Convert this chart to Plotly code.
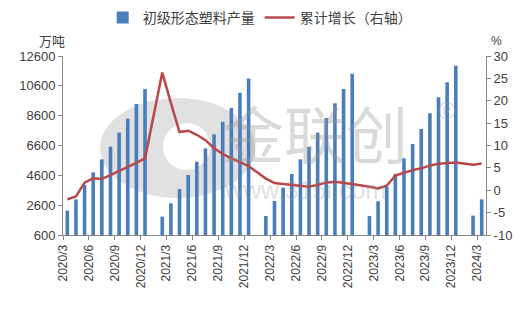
import plotly.graph_objects as go

months = ["2020/3","2020/4","2020/5","2020/6","2020/7","2020/8","2020/9","2020/10","2020/11","2020/12",
          "2021/1","2021/2","2021/3","2021/4","2021/5","2021/6","2021/7","2021/8","2021/9","2021/10","2021/11","2021/12",
          "2022/1","2022/2","2022/3","2022/4","2022/5","2022/6","2022/7","2022/8","2022/9","2022/10","2022/11","2022/12",
          "2023/1","2023/2","2023/3","2023/4","2023/5","2023/6","2023/7","2023/8","2023/9","2023/10","2023/11","2023/12",
          "2024/1","2024/2","2024/3"]

production = [2230, 2990, 3950, 4800, 5670, 6520, 7460, 8400, 9380, 10390,
              None, 1830, 2730, 3680, 4620, 5510, 6410, 7350, 8190, 9110, 10140, 11100,
              None, 1870, 2880, 3770, 4690, 5670, 6520, 7460, 8440, 9430, 10390, 11410,
              None, 1870, 2860, 3840, 4700, 5740, 6700, 7710, 8760, 9830, 10840, 11950,
              None, 1900, 2990]

growth = [-2.0, -1.4, 1.7, 2.7, 2.5, 3.4, 4.3, 5.1, 6.1, 7.1,
          None, 26.3, 19.5, 13.0, 13.3, 12.4, 11.2, 9.4, 8.1, 7.1, 6.3, 5.4,
          None, 2.6, 1.6, 1.4, 1.2, 1.0, 0.8, 1.2, 1.7, 1.9, 1.7, 1.4,
          None, 0.8, 0.4, 1.0, 3.3, 3.9, 4.5, 4.9, 5.5, 5.9, 6.1, 6.2,
          None, 5.7, 6.0]

tick_labels = ["2020/3","2020/6","2020/9","2020/12","2021/3","2021/6","2021/9","2021/12",
               "2022/3","2022/6","2022/9","2022/12","2023/3","2023/6","2023/9","2023/12","2024/3"]

left_ticks = [600, 2600, 4600, 6600, 8600, 10600, 12600]
left_tick_text = ["600", "2600", "4600", "6600", "8600", "10600", "12600"]
right_ticks = [-10, -5, 0, 5, 10, 15, 20, 25, 30]
right_tick_text = ["-10", "-5", "0", "5", "10", "15", "20", "25", "30"]

bar_name = "初级形态塑料产量"
line_name = "累计增长（右轴）"

idx = list(range(len(months)))
pos = {m: i for i, m in enumerate(months)}
tick_pos = [pos[t] - 0.5 for t in tick_labels]

W, H = 530, 309
L, R, T, B = 63, 44, 56, 74
pw, ph = W - L - R, H - T - B

def px(x):
    return (x - L) / pw

def py(y):
    return (H - B - y) / ph

cjk = "Noto Sans CJK SC"
num_font = "Liberation Sans"
txt = "#404040"

fig = go.Figure()
fig.add_trace(go.Bar(x=idx, y=production, name=bar_name, width=0.42,
                     marker=dict(color="#4a7ebb", line=dict(width=0)), yaxis="y"))
fig.add_trace(go.Scatter(x=idx, y=growth, name=line_name, mode="lines", connectgaps=True,
                         line=dict(color="#b8474a", width=2.5), yaxis="y2"))

shapes = [
    dict(type="circle", xref="paper", yref="paper", layer="below",
         x0=px(100), x1=px(255), y0=py(198), y1=py(98),
         fillcolor="rgba(200,200,200,0.55)", line=dict(width=0)),
    dict(type="circle", xref="paper", yref="paper", layer="below",
         x0=px(163), x1=px(210), y0=py(170), y1=py(123),
         fillcolor="white", line=dict(width=0)),
]

annotations = [
    dict(text="万吨", xref="paper", yref="paper", x=px(52), y=py(40), showarrow=False,
         font=dict(family=cjk, size=13, color=txt), xanchor="center", yanchor="middle"),
    dict(text="%", xref="paper", yref="paper", x=px(496), y=py(41), showarrow=False,
         font=dict(family=num_font, size=12, color=txt), xanchor="center", yanchor="middle"),
    dict(text="金联创", xref="paper", yref="paper", x=px(315), y=py(132), showarrow=False,
         font=dict(family=cjk, size=62, color="rgba(150,150,150,0.35)"), xanchor="center", yanchor="middle"),
    dict(text="®", xref="paper", yref="paper", x=px(447), y=py(110), showarrow=False,
         font=dict(family=num_font, size=24, color="rgba(150,150,150,0.35)"), xanchor="center", yanchor="middle"),
    dict(text="www.315i.com", xref="paper", yref="paper", x=px(305), y=py(190), showarrow=False,
         font=dict(family=num_font, size=25, color="rgba(150,150,150,0.3)"), xanchor="center", yanchor="middle"),
]

fig.update_layout(
    width=W, height=H,
    margin=dict(l=L, r=R, t=T, b=B),
    paper_bgcolor="white", plot_bgcolor="rgba(0,0,0,0)",
    showlegend=True,
    legend=dict(orientation="h", xref="container", yref="container", x=0.49, y=1 - 18 / H,
                xanchor="center", yanchor="middle", font=dict(family=cjk, size=14, color=txt),
                itemwidth=30, bgcolor="rgba(0,0,0,0)"),
    bargap=0.5,
    xaxis=dict(range=[-0.5, len(months) - 0.5], tickmode="array", tickvals=tick_pos, ticktext=tick_labels,
               tickangle=-90, ticks="outside", ticklen=4, tickcolor="#888", showline=True, linecolor="#888",
               showgrid=False, zeroline=False, tickfont=dict(family=num_font, size=12, color=txt)),
    yaxis=dict(range=[600, 12600], tickmode="array", tickvals=left_ticks, ticktext=left_tick_text,
               ticks="outside", ticklen=4,
               tickcolor="#888", showline=True, linecolor="#888", showgrid=False, zeroline=False,
               tickfont=dict(family=num_font, size=13, color=txt)),
    yaxis2=dict(range=[-10, 30], tickmode="array", tickvals=right_ticks, ticktext=right_tick_text,
                overlaying="y", side="right",
                ticks="outside", ticklen=4, tickcolor="#888", showline=True, linecolor="#888",
                showgrid=False, zeroline=False, tickfont=dict(family=num_font, size=13, color=txt)),
    shapes=shapes, annotations=annotations,
)

fig.write_html("out.html")
